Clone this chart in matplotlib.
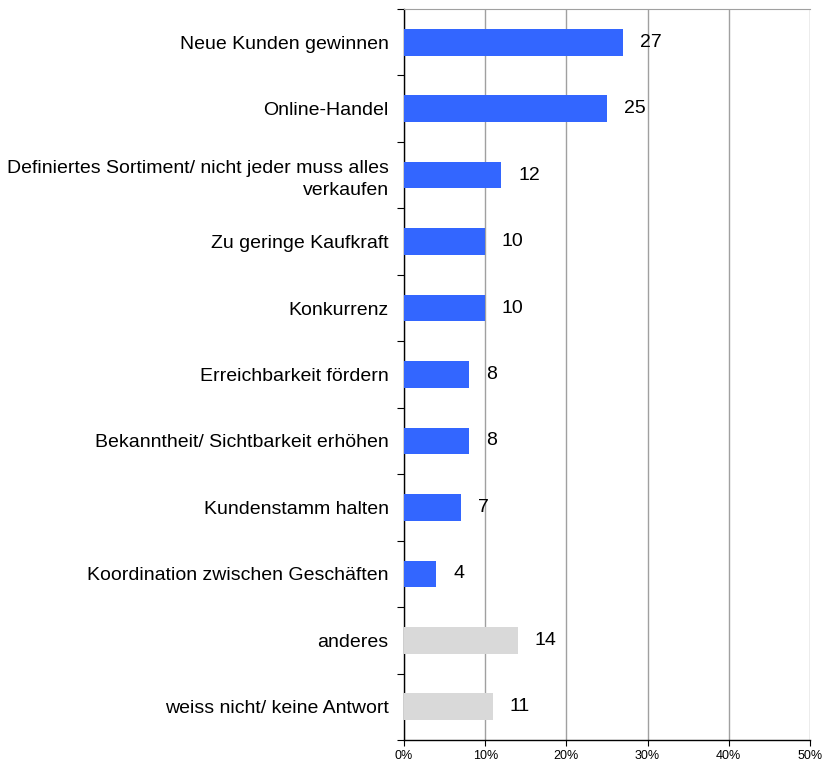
import numpy as np
import matplotlib.pyplot as plt

plt.rcParams['font.family'] = ['Liberation Sans', 'DejaVu Sans']

categories = [
    "Neue Kunden gewinnen",
    "Online-Handel",
    "Definiertes Sortiment/ nicht jeder muss alles\nverkaufen",
    "Zu geringe Kaufkraft",
    "Konkurrenz",
    "Erreichbarkeit fördern",
    "Bekanntheit/ Sichtbarkeit erhöhen",
    "Kundenstamm halten",
    "Koordination zwischen Geschäften",
    "anderes",
    "weiss nicht/ keine Antwort",
]
values = [27, 25, 12, 10, 10, 8, 8, 7, 4, 14, 11]
is_other = [False] * 9 + [True, True]

blue = '#3366FF'
grey = '#D9D9D9'

fig = plt.figure(figsize=(8.23, 7.64), dpi=100)
ax = fig.add_axes([404 / 823, 24 / 764, 406 / 823, 731 / 764])

y = np.arange(len(categories))
colors = [grey if o else blue for o in is_other]
ax.barh(y, values, height=0.4, color=colors, zorder=3)

for yi, v in zip(y, values):
    ax.annotate(str(v), (v, yi), xytext=(12, 0), textcoords='offset points',
                va='center', ha='left', fontsize=14, zorder=4)

ax.set_xlim(0, 50)
ax.set_ylim(len(categories) - 0.5, -0.5)
ax.set_xticks(np.arange(0, 51, 10))
ax.set_xticklabels([f"{t}%" for t in range(0, 51, 10)], fontsize=9)
ax.set_yticks(y)
ax.set_yticklabels(categories, fontsize=14, ha='right', linespacing=1.4)
ax.set_yticks(np.arange(-0.5, len(categories), 1), minor=True)
ax.tick_params(axis='y', which='major', length=0, pad=11)
ax.tick_params(axis='y', which='minor', length=5, width=0.8)
ax.tick_params(axis='x', length=4, width=0.8, pad=3)

ax.grid(axis='x', color='#A0A0A0', linewidth=1, zorder=0)
ax.spines['right'].set_visible(False)
ax.spines['top'].set_color('#A0A0A0')
ax.spines['left'].set_linewidth(1)
ax.spines['bottom'].set_linewidth(1)

fig.savefig('out.png', dpi=100)
